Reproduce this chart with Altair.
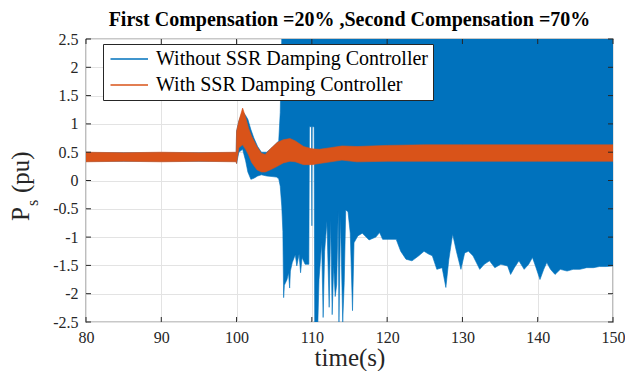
import altair as alt
import pandas as pd

# ---------------- data ----------------
x_ticks = [80, 90, 100, 110, 120, 130, 140, 150]
y_ticks = [-2.5, -2, -1.5, -1, -0.5, 0, 0.5, 1, 1.5, 2, 2.5]

S1 = "Without SSR Damping Controller"
S2 = "With SSR Damping Controller"

# Without controller: envelope (low / high) of the fast oscillation
b_time = [80, 85, 90, 95, 99.95, 100.0, 100.3, 100.8, 101.2, 101.5, 101.9, 102.3, 102.8,
          103.3, 104.0, 104.7, 105.3, 105.6, 105.8, 106.0, 106.15, 106.25, 106.35, 106.7,
          106.9, 107.05, 107.15, 107.4, 107.8, 108.0, 108.3, 108.5, 108.7, 109.1, 109.6,
          109.68, 109.95, 110.0, 110.05, 110.3, 110.38, 110.8, 110.95, 111.3, 111.5, 111.7,
          112.0, 112.3, 112.5, 112.7, 112.9, 113.1, 113.3, 113.5, 113.6, 113.8, 114.1,
          114.3, 114.5, 114.8, 115.1, 115.4, 115.6, 116.1, 116.7, 117.6, 118.5, 119.0,
          119.4, 120.1, 121.2, 121.8, 122.5, 123.3, 124.2, 124.9, 125.5, 126.0, 126.6,
          127.3, 127.8, 128.2, 128.7, 129.2, 129.8, 130.3, 130.8, 131.4, 132.3, 132.9,
          133.6, 134.3, 135.1, 136.0, 136.4, 136.9, 137.5, 138.2, 138.8, 139.3, 139.7,
          140.3, 140.8, 141.2, 141.7, 142.3, 143.0, 143.9, 144.7, 145.6, 146.5, 147.4,
          148.2, 149.1, 150.0]
b_low = [0.34, 0.34, 0.34, 0.34, 0.34, 0.30, 0.50, 0.55, 0.35, 0.15, 0.02, 0.04, 0.08,
         0.10, 0.08, 0.07, 0.06, 0.03, -0.10, -0.45, -0.90, -2.07, -1.85, -1.75,
         -1.63, -1.90, -1.60, -1.45, -1.31, -1.51, -1.30, -1.63, -1.36, -1.48, -1.48,
         0.95, 0.95, -0.80, 0.95, 0.95, -2.50, -2.50, -1.75, -1.10, -2.42, -1.25,
         -0.72, -2.24, -0.70, -2.37, -1.50, -2.05, -1.84, -0.55, -2.50, -0.63, -2.50,
         -1.80, -0.52, -0.55, -0.93, -2.30, -1.10, -0.98, -0.93, -1.05, -1.00, -0.92,
         -1.04, -1.04, -1.04, -1.25, -1.39, -1.42, -1.33, -1.25, -1.30, -1.33, -1.57,
         -1.54, -1.89, -1.39, -0.95, -1.25, -1.57, -1.28, -1.25, -1.33, -1.57, -1.48,
         -1.42, -1.54, -1.48, -1.51, -1.66, -1.54, -1.42, -1.57, -1.48, -1.36, -1.51,
         -1.75, -1.57, -1.45, -1.57, -1.66, -1.57, -1.60, -1.57, -1.57, -1.54, -1.54,
         -1.52, -1.52, -1.51]
b_high = [0.49, 0.49, 0.49, 0.49, 0.49, 0.87, 1.05, 1.22, 1.15, 1.08, 0.90, 0.75, 0.60,
          0.50, 0.50, 0.58, 0.66, 0.70, 1.20] + [2.5] * (len(b_time) - 19)

# With controller: envelope (low / high)
o_time = [80, 85, 90, 95, 99.95, 100.0, 100.3, 100.8, 101.2, 101.6, 102.0, 102.7, 103.3,
          103.8, 104.5, 105.4, 106.2, 107.1, 107.8, 108.9, 110.0, 111.0, 112.5, 114.0,
          116.0, 120.0, 125.0, 130.0, 135.0, 140.0, 145.0, 150.0]
o_low = [0.33, 0.34, 0.33, 0.34, 0.33, 0.30, 0.58, 0.63, 0.55, 0.45, 0.32, 0.19, 0.15,
         0.15, 0.19, 0.25, 0.31, 0.34, 0.33, 0.28, 0.28, 0.30, 0.33, 0.36,
         0.33, 0.34, 0.34, 0.34, 0.34, 0.34, 0.34, 0.34]
o_high = [0.50, 0.49, 0.50, 0.49, 0.50, 0.87, 1.05, 1.28, 1.12, 0.92, 0.78, 0.60, 0.48,
          0.46, 0.56, 0.67, 0.72, 0.74, 0.70, 0.60, 0.56, 0.55, 0.58, 0.61,
          0.60, 0.62, 0.63, 0.63, 0.63, 0.63, 0.63, 0.63]

# ---------------- styling ----------------
BLUE = "#0072BD"
ORANGE = "#D95319"
AX = "#262626"
FONT = "Liberation Serif"
W, H = 527, 283

dfb = pd.DataFrame({"t": b_time, "lo": b_low, "hi": b_high, "series": S1})
dfo = pd.DataFrame({"t": o_time, "lo": o_low, "hi": o_high, "series": S2})
dxt = pd.DataFrame({"t": x_ticks})
dyt = pd.DataFrame({"v": y_ticks})
one = pd.DataFrame({"a": [0]})

xs = alt.Scale(domain=[80, 150], nice=False, zero=False)
ys = alt.Scale(domain=[-2.5, 2.5], nice=False, zero=False)
cs = alt.Scale(domain=[S1, S2], range=[BLUE, ORANGE])

xaxis = alt.Axis(values=x_ticks, grid=True, gridColor="#e3e3e3", gridWidth=1,
                 ticks=False, domain=False, labelFont=FONT, labelFontSize=16,
                 labelColor=AX, labelPadding=7, labelFlush=False,
                 title="time(s)", titleFont=FONT, titleFontSize=25,
                 titleFontWeight="normal", titleColor=AX, titlePadding=0)
yaxis = alt.Axis(values=y_ticks, grid=True, gridColor="#e3e3e3", gridWidth=1,
                 ticks=False, domain=False, labelFont=FONT, labelFontSize=16,
                 labelColor=AX, labelPadding=8, labelFlush=False,
                 labelExpr="'' + datum.value", title=None)

# legend symbol: a thin horizontal line drawn as a filled path
LEG_LINE = "M-1,-0.1L4,-0.1L4,0.1L-1,0.1Z"
leg = alt.Legend(title=None, orient="none", legendX=17, legendY=5,
                 symbolType=LEG_LINE, symbolSize=225, symbolStrokeWidth=0,
                 labelFont=FONT, labelFontSize=20, labelColor="black",
                 labelLimit=500, labelOffset=28, strokeColor=AX,
                 fillColor="white", padding=5, rowPadding=6)


def band(df):
    return alt.Chart(df).mark_area(clip=True, strokeWidth=0.6, opacity=1).encode(
        x=alt.X("t:Q", scale=xs, axis=xaxis),
        y=alt.Y("lo:Q", scale=ys, axis=yaxis),
        y2="hi:Q",
        fill=alt.Fill("series:N", scale=cs, legend=leg),
        stroke=alt.Stroke("series:N", scale=cs, legend=leg),
    )


blue_band = band(dfb)
orange_band = band(dfo)

tick_bottom = alt.Chart(dxt).mark_rule(color=AX, strokeWidth=1).encode(
    x=alt.X("t:Q", scale=xs, axis=xaxis), y=alt.value(H), y2=alt.value(H - 5))
tick_top = alt.Chart(dxt).mark_rule(color=AX, strokeWidth=1).encode(
    x=alt.X("t:Q", scale=xs, axis=xaxis), y=alt.value(0), y2=alt.value(5))
tick_left = alt.Chart(dyt).mark_rule(color=AX, strokeWidth=1).encode(
    y=alt.Y("v:Q", scale=ys, axis=yaxis), x=alt.value(0), x2=alt.value(5))
tick_right = alt.Chart(dyt).mark_rule(color=AX, strokeWidth=1).encode(
    y=alt.Y("v:Q", scale=ys, axis=yaxis), x=alt.value(W), x2=alt.value(W - 5))

title = alt.Chart(one).mark_text(font=FONT, fontSize=20, fontWeight="bold",
                                 color="black", align="center",
                                 baseline="alphabetic").encode(
    x=alt.value(W / 2), y=alt.value(-13),
    text=alt.value("First Compensation =20% ,Second Compensation =70%"))

ylab_p = alt.Chart(one).mark_text(font=FONT, fontSize=25, color=AX, angle=270,
                                  align="left", baseline="alphabetic").encode(
    x=alt.value(-57), y=alt.value(182), text=alt.value("P"))
ylab_s = alt.Chart(one).mark_text(font=FONT, fontSize=16, color=AX, angle=270,
                                  align="left", baseline="alphabetic").encode(
    x=alt.value(-48), y=alt.value(167), text=alt.value("s"))
ylab_pu = alt.Chart(one).mark_text(font=FONT, fontSize=25, color=AX, angle=270,
                                   align="left", baseline="alphabetic").encode(
    x=alt.value(-57), y=alt.value(154), text=alt.value("(pu)"))

chart = alt.layer(
    blue_band, orange_band, tick_bottom, tick_top, tick_left, tick_right,
    title, ylab_p, ylab_s, ylab_pu
).properties(
    width=W, height=H,
    autosize=alt.AutoSizeParams(type="none"),
    padding={"left": 78, "top": 31, "right": 12, "bottom": 49},
    background="white",
).configure_view(
    stroke=AX, strokeWidth=1.2
).configure_axis(
    labelFont=FONT, titleFont=FONT
).configure_legend(
    labelFont=FONT
)

chart.save("out.html", embed_options={"renderer": "svg", "actions": False})
